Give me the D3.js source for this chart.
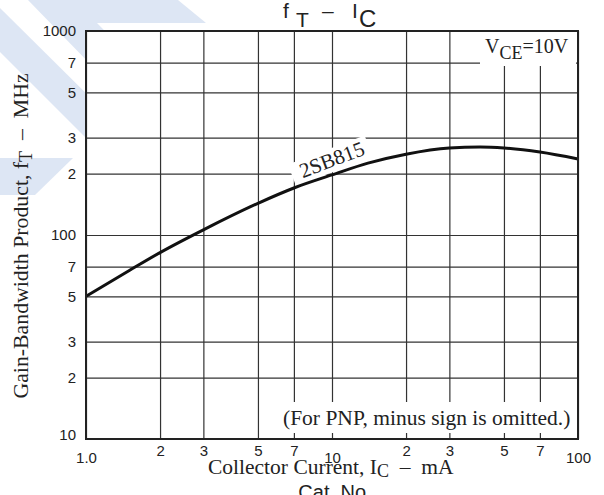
<!DOCTYPE html>
<html>
<head>
<meta charset="utf-8">
<script src="https://cdn.jsdelivr.net/npm/d3@7"></script>
<style>
  body { margin: 0; background: #fff; }
  svg { display: block; }
  .serif { font-family: "Liberation Serif", "Times New Roman", serif; fill: #222; white-space: pre; }
  .sans { font-family: "Liberation Sans", Arial, sans-serif; fill: #222; white-space: pre; }
</style>
</head>
<body>
<svg width="604" height="495"></svg>
<script>
// collector current (mA) and gain-bandwidth product (MHz)
const icValues = [1, 1.5, 2, 3, 5, 7, 10, 14, 20, 30, 40, 50, 70, 100];
const ftValues = [50, 67, 82, 106, 143, 170, 197, 225, 249, 267, 270, 267, 255, 236];

const xTicks = [1, 2, 3, 5, 7, 10, 20, 30, 50, 70, 100];
const xTickLabels = ['1.0', '2', '3', '5', '7', '10', '2', '3', '5', '7', '100'];
const yTicks = [10, 20, 30, 50, 70, 100, 200, 300, 500, 700, 1000];
const yTickLabels = ['10', '2', '3', '5', '7', '100', '2', '3', '5', '7', '1000'];

const svg = d3.select('svg');
const width = +svg.attr('width');
const height = +svg.attr('height');
const margin = { left: 86, top: 31, right: 26, bottom: 56 };
const innerWidth = width - margin.left - margin.right;
const innerHeight = height - margin.top - margin.bottom;

// light blue watermark stripes in the background
const marks = [
  [[28, 0], [178, 0], [206, 23], [97, 23], [152, 79], [128, 103]],
  [[0, 8], [113, 120], [88, 140], [0, 52]],
  [[0, 158], [73, 158], [35, 195], [0, 195]]
];
svg.selectAll('polygon.wm').data(marks)
  .enter().append('polygon')
    .attr('class', 'wm')
    .attr('points', d => d.map(p => p.join(',')).join(' '))
    .attr('fill', '#dde6f4');

const xScale = d3.scaleLog().domain([1, 100]).range([0, innerWidth]);
const yScale = d3.scaleLog().domain([10, 1000]).range([innerHeight, 0]);

const g = svg.append('g')
  .attr('transform', `translate(${margin.left}, ${margin.top})`);

g.append('rect')
  .attr('width', innerWidth).attr('height', innerHeight)
  .attr('fill', '#fff');

//x axis with grid
const xAxisG = g.append('g')
  .attr('transform', `translate(0, ${innerHeight})`)
  .call(d3.axisBottom(xScale)
    .tickValues(xTicks)
    .tickFormat((d, i) => xTickLabels[i])
    .tickSize(-innerHeight)
    .tickSizeOuter(0)
    .tickPadding(6));
xAxisG.select('.domain').remove();
xAxisG.selectAll('.tick line').attr('stroke', '#333').attr('stroke-width', 1.2);
xAxisG.selectAll('.tick text')
  .attr('class', 'sans')
  .attr('font-size', 15)
  .attr('y', d => (d === 1 || d === 10 || d === 100) ? 13 : 6);

//y axis with grid
const yAxisG = g.append('g')
  .call(d3.axisLeft(yScale)
    .tickValues(yTicks)
    .tickFormat((d, i) => yTickLabels[i])
    .tickSize(-innerWidth)
    .tickSizeOuter(0)
    .tickPadding(10));
yAxisG.select('.domain').remove();
yAxisG.selectAll('.tick line').attr('stroke', '#333').attr('stroke-width', 1.2);
yAxisG.selectAll('.tick text')
  .attr('class', 'sans')
  .attr('font-size', 15)
  .attr('y', d => d === 10 ? -4 : 0);

// white boxes that cover the grid behind the notes
g.append('rect')
  .attr('x', 394).attr('y', 1)
  .attr('width', 96).attr('height', 34)
  .attr('fill', '#fff');
g.append('rect')
  .attr('x', 195).attr('y', 371)
  .attr('width', 295).attr('height', 31)
  .attr('fill', '#fff');

// curve label
const lbl = g.append('g')
  .attr('transform', `translate(${xScale(7.6)}, ${yScale(190)}) rotate(-20.7)`);
lbl.append('rect')
  .attr('x', -9).attr('y', -18)
  .attr('width', 82).attr('height', 23)
  .attr('fill', '#fff');
lbl.append('text')
  .attr('class', 'serif')
  .attr('font-size', 21)
  .text('2SB815');

// curve
const line = d3.line()
  .x(d => xScale(d[0]))
  .y(d => yScale(d[1]))
  .curve(d3.curveMonotoneX);
g.append('path')
  .datum(icValues.map((v, i) => [v, ftValues[i]]))
  .attr('d', line)
  .attr('fill', 'none')
  .attr('stroke', '#111')
  .attr('stroke-width', 3);

// frame
g.append('rect')
  .attr('width', innerWidth).attr('height', innerHeight)
  .attr('fill', 'none')
  .attr('stroke', '#222')
  .attr('stroke-width', 2);

// notes
const vce = g.append('text')
  .attr('class', 'serif')
  .attr('font-size', 20)
  .attr('x', 399).attr('y', 22);
vce.append('tspan').text('V');
vce.append('tspan').attr('dy', 6).attr('font-size', 18).text('CE');
vce.append('tspan').attr('dy', -6).text('=10V');

g.append('text')
  .attr('class', 'serif')
  .attr('font-size', 21.5)
  .attr('x', 197).attr('y', 394)
  .text('(For PNP, minus sign is omitted.)');

// title
const title = svg.append('text')
  .attr('class', 'sans')
  .attr('font-size', 21)
  .attr('y', 18);
title.append('tspan').attr('x', 283).text('f');
title.append('tspan').attr('x', 296).attr('dy', 9).text('T');
title.append('tspan').attr('x', 322).attr('dy', -9).text('–');
title.append('tspan').attr('x', 352).text('I');
title.append('tspan').attr('x', 359).attr('dy', 9).attr('font-size', 24).text('C');

// axis titles
const xTitle = svg.append('text')
  .attr('class', 'serif')
  .attr('font-size', 21.5)
  .attr('x', 208).attr('y', 474);
xTitle.append('tspan').text('Collector Current, I');
xTitle.append('tspan').attr('dy', 3).attr('font-size', 18).text('C');
xTitle.append('tspan').attr('dy', -3).text('  –  mA');

const yTitle = svg.append('text')
  .attr('class', 'serif')
  .attr('font-size', 21.8)
  .attr('text-anchor', 'middle')
  .attr('transform', 'translate(28, 236) rotate(-90)');
yTitle.append('tspan').text('Gain-Bandwidth Product, f');
yTitle.append('tspan').attr('dy', 4).attr('font-size', 18).text('T');
yTitle.append('tspan').attr('dy', -4).text('  –  MHz');

// caption cut off at the bottom edge
svg.append('text')
  .attr('class', 'sans')
  .attr('font-size', 20)
  .attr('text-anchor', 'middle')
  .attr('x', 335).attr('y', 499)
  .text('Cat. No.');
</script>
</body>
</html>
